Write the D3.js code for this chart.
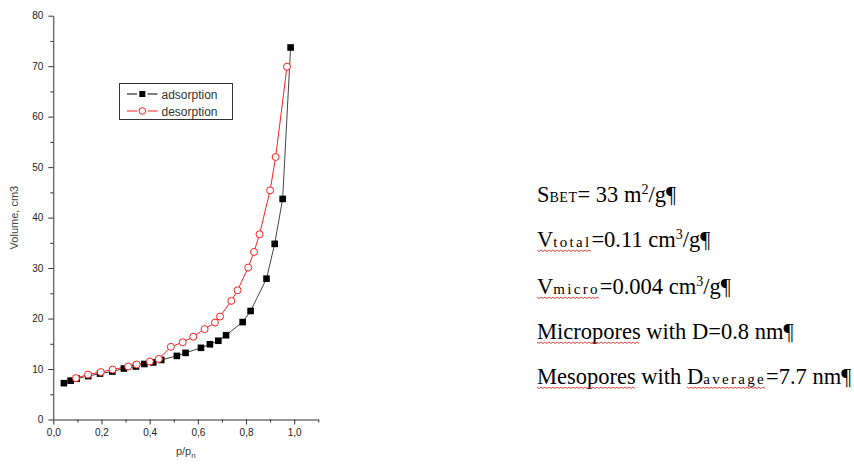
<!DOCTYPE html>
<html><head><meta charset="utf-8">
<script src="https://cdn.jsdelivr.net/npm/d3@7"></script>
<style>
html,body{margin:0;padding:0;background:#fff;}
svg{display:block;}
</style></head>
<body>
<svg id="chart" width="854" height="464"></svg>
<script>
// ---- data ----
const adsX = [0.044,0.072,0.097,0.145,0.194,0.245,0.293,0.343,0.378,0.415,0.448,0.513,0.549,0.613,0.650,0.685,0.717,0.786,0.819,0.885,0.919,0.952,0.985];
const adsY = [7.2,7.7,8.1,8.6,9.1,9.5,10.1,10.5,11.0,11.3,11.8,12.6,13.2,14.2,14.9,15.6,16.7,19.3,21.5,27.9,34.8,43.7,73.7];
const desX = [0.094,0.144,0.197,0.246,0.311,0.346,0.401,0.438,0.488,0.537,0.581,0.628,0.671,0.692,0.739,0.765,0.809,0.833,0.856,0.900,0.923,0.970];
const desY = [8.2,8.9,9.4,9.9,10.5,10.9,11.5,12.0,14.4,15.3,16.4,17.9,19.2,20.4,23.5,25.6,30.1,33.2,36.7,45.4,52.0,69.9];
const xTicks = [0,0.2,0.4,0.6,0.8,1.0];
const xMinor = [0.1,0.3,0.5,0.7,0.9,1.1];
const yTicks = [0,10,20,30,40,50,60,70,80];
const yMinor = [5,15,25,35,45,55,65,75];
const seriesNames = ["adsorption","desorption"];

const svg = d3.select("#chart");
const x = d3.scaleLinear().domain([0,1.1]).range([53.3,318.3]);
const y = d3.scaleLinear().domain([0,80]).range([419.5,15.7]);
const axisCol = "#333";
const fmt = d => d3.format(".1f")(d).replace(".", ",");

// x axis
const gx = svg.append("g").attr("transform",`translate(0,${y(0)})`);
gx.call(d3.axisBottom(x).tickValues(xTicks).tickFormat(fmt).tickSize(5).tickPadding(4).tickSizeOuter(0));
gx.append("g").call(d3.axisBottom(x).tickValues(xMinor).tickFormat("").tickSize(3).tickSizeOuter(0)).select(".domain").remove();
// y axis
const gy = svg.append("g").attr("transform",`translate(${x(0)},0)`);
gy.call(d3.axisLeft(y).tickValues(yTicks).tickFormat(d3.format("d")).tickSize(5).tickPadding(5).tickSizeOuter(0));
gy.append("g").call(d3.axisLeft(y).tickValues(yMinor).tickFormat("").tickSize(3).tickSizeOuter(0)).select(".domain").remove();
svg.selectAll(".domain").attr("stroke",axisCol);
svg.selectAll(".tick line").attr("stroke",axisCol);
svg.selectAll(".tick text").attr("fill","#222").style("font-family","Liberation Sans, Arial, sans-serif").style("font-size","10px");

// axis titles
svg.append("text").attr("transform",`translate(18,${(y(0)+y(80))/2}) rotate(-90)`)
  .attr("text-anchor","middle").attr("fill","#444")
  .style("font-family","Liberation Sans, Arial, sans-serif").style("font-size","11px").text("Volume, cm3");
const xt = svg.append("text").attr("x",(x(0)+x(1.1))/2).attr("y",455).attr("text-anchor","middle").attr("fill","#444")
  .style("font-family","Liberation Sans, Arial, sans-serif").style("font-size","11px");
xt.append("tspan").text("p/p");
xt.append("tspan").attr("dy",3).style("font-size","8px").text("n");

// series
const ads = adsX.map((v,i)=>[v,adsY[i]]);
const des = desX.map((v,i)=>[v,desY[i]]);
const line = d3.line().x(d=>x(d[0])).y(d=>y(d[1]));
svg.append("path").datum(ads).attr("d",line).attr("fill","none").attr("stroke","#444").attr("stroke-width",1);
svg.append("path").datum(des).attr("d",line).attr("fill","none").attr("stroke","#ff2020").attr("stroke-width",1);
const sq = 6.6;
svg.append("g").selectAll("rect").data(ads).join("rect")
  .attr("x",d=>x(d[0])-sq/2).attr("y",d=>y(d[1])-sq/2).attr("width",sq).attr("height",sq).attr("fill","#000");
svg.append("g").selectAll("circle").data(des).join("circle")
  .attr("cx",d=>x(d[0])).attr("cy",d=>y(d[1])).attr("r",3.5).attr("fill","#fff").attr("stroke","#ff2020").attr("stroke-width",1);

// legend
const lg = svg.append("g");
lg.append("rect").attr("x",119.5).attr("y",83.5).attr("width",113).attr("height",36).attr("fill","#fff").attr("stroke","#333");
const legendRows = [{name:seriesNames[0],col:"#000",y:94},{name:seriesNames[1],col:"#ff2020",y:111}];
legendRows.forEach((r,i)=>{
  lg.append("line").attr("x1",127).attr("x2",137).attr("y1",r.y).attr("y2",r.y).attr("stroke",r.col);
  lg.append("line").attr("x1",147.5).attr("x2",157.5).attr("y1",r.y).attr("y2",r.y).attr("stroke",r.col);
  if(i===0) lg.append("rect").attr("x",142.3-3).attr("y",r.y-3).attr("width",6).attr("height",6).attr("fill","#000");
  else lg.append("circle").attr("cx",142.3).attr("cy",r.y).attr("r",3.3).attr("fill","#fff").attr("stroke",r.col);
  lg.append("text").attr("x",161.5).attr("y",r.y+4.5).attr("fill","#333")
    .style("font-family","Liberation Sans, Arial, sans-serif").style("font-size","12px").text(r.name);
});

// annotation text
const serif = "Liberation Serif, Times New Roman, serif";
const lines = [
  {y:202, parts:[["S",""],["BET","sub"],["= 33 m",""],["2","sup"],["/g¶",""]]},
  {y:247, parts:[["V","w"],["total","subw"],["=0.11 cm",""],["3","sup"],["/g¶",""]]},
  {y:294, parts:[["V","w"],["micro","subw"],["=0.004 cm",""],["3","sup"],["/g¶",""]]},
  {y:339, parts:[["Micropores","w"],[" with D=0.8 nm¶",""]]},
  {y:384, parts:[["Mesopores","w"],[" with ",""],["D","w"],["average","subw"],["=7.7 nm¶",""]]}
];
const ag = svg.append("g");
lines.forEach(L=>{
  const t = ag.append("text").attr("x",537).attr("y",L.y).attr("fill","#000")
    .style("font-family",serif).style("font-size","22.5px");
  const spans = [];
  L.parts.forEach(p=>{
    const s = t.append("tspan").text(p[0]);
    if(p[1]==="sub") s.style("font-size","14px").style("letter-spacing","0.5px");
    if(p[1]==="subw") s.style("font-size","15px").style("letter-spacing","2.3px");
    if(p[1]==="sup") s.style("font-size","14px").attr("dy",-8);
    spans.push({s,p});
  });
  spans.forEach((o,i)=>{ if(i>0 && spans[i-1].p[1]==="sup") o.s.attr("dy",8); });
  let runStart=null, runEnd=null;
  const runs=[];
  spans.forEach(o=>{
    const n=o.s.node();
    if(o.p[1].endsWith("w")){
      const st=n.getStartPositionOfChar(0).x;
      const en=n.getEndPositionOfChar(o.p[0].length-1).x;
      if(runStart===null){runStart=st;}
      runEnd=en;
    } else if(runStart!==null){runs.push([runStart,runEnd]);runStart=null;}
  });
  if(runStart!==null) runs.push([runStart,runEnd]);
  runs.forEach(r=>{
    const pts=[]; let k=0;
    for(let xx=r[0]; xx<=r[1]; xx+=2){pts.push([xx, L.y+3+(k%2?1.5:0)]); k++;}
    ag.append("path").attr("d",d3.line()(pts)).attr("fill","none").attr("stroke","#e03030").attr("stroke-width",0.9);
  });
});
</script>
</body></html>
